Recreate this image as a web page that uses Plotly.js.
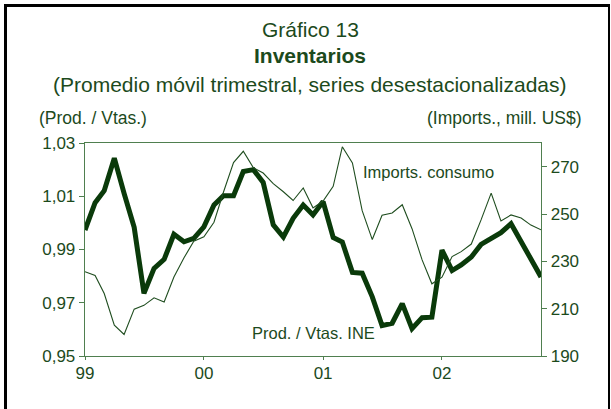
<!DOCTYPE html>
<html>
<head>
<meta charset="utf-8">
<script src="https://cdn.plot.ly/plotly-3.0.1.min.js"></script>
<style>
  html, body { margin: 0; padding: 0; background: #ffffff; }
  #wrap { position: relative; width: 611px; height: 409px; overflow: hidden; }
  #chart { width: 611px; height: 409px; }
  #frame { position: absolute; left: 4px; top: 4px; width: 601px; height: 420px;
           border-left: 3px solid #000; border-top: 3px solid #000; border-right: 2px solid #000;
           pointer-events: none; }
</style>
</head>
<body>
<div id="wrap">
  <div id="chart"></div>
  <div id="frame"></div>
</div>
<script>
// ---- Data (monthly, Jan 1999 - Nov 2002) ----
const months = [
  '1999-01','1999-02','1999-03','1999-04','1999-05','1999-06','1999-07','1999-08','1999-09','1999-10','1999-11','1999-12',
  '2000-01','2000-02','2000-03','2000-04','2000-05','2000-06','2000-07','2000-08','2000-09','2000-10','2000-11','2000-12',
  '2001-01','2001-02','2001-03','2001-04','2001-05','2001-06','2001-07','2001-08','2001-09','2001-10','2001-11','2001-12',
  '2002-01','2002-02','2002-03','2002-04','2002-05','2002-06','2002-07','2002-08','2002-09','2002-10','2002-11'
];
// Prod. / Vtas. INE (left axis)
const prodVtas = [
  0.9973,1.0076,1.0121,1.0243,1.0111,0.9983,0.9735,0.9829,0.9863,0.9957,0.9929,0.9942,
  0.9985,1.0067,1.0102,1.0102,1.0193,1.0200,1.0152,0.9993,0.9947,1.0017,1.0067,1.0030,
  1.0080,0.9945,0.9928,0.9814,0.9811,0.9722,0.9614,0.9623,0.9697,0.9603,0.9644,0.9646,
  0.9898,0.9821,0.9842,0.9872,0.9919,0.9943,0.9963,0.9997,0.9930,0.9872,0.9797
];
// Imports. consumo (right axis, mill. US$)
const importsConsumo = [
  225.6,224.0,216.4,203.0,199.1,209.8,211.4,214.6,212.8,223.4,231.5,238.5,
  240.4,246.5,259.2,271.7,276.5,269.5,267.3,262.8,259.4,255.7,261.0,252.6,
  255.5,261.7,278.4,271.6,251.4,239.2,249.5,250.4,253.9,243.8,230.6,220.5,
  223.3,232.0,234.1,237.3,247.5,258.8,247.1,249.6,248.3,245.3,243.3
];
const xTickVals = ['1999-01','2000-01','2001-01','2002-01'];
const xTickText = ['99','00','01','02'];
const leftTicks = [0.95,0.97,0.99,1.01,1.03];
const rightTicks = [190,210,230,250,270];

// ---- Styling ----
const FONT = 'Arial, "Liberation Sans", sans-serif';
const TXT = '#1c4a1c';
const AXC = '#4f7f4f';
const W = 611, H = 409;
const L = 85, R = 541, T = 143, B = 356;
const px = x => (x - L) / (R - L);
const py = y => (B - y) / (B - T);

const traces = [
  {
    x: months, y: importsConsumo, type: 'scatter', mode: 'lines', yaxis: 'y2',
    line: { color: '#1f4d1f', width: 1.1 }, name: 'Imports. consumo', hoverinfo: 'skip'
  },
  {
    x: months, y: prodVtas, type: 'scatter', mode: 'lines', yaxis: 'y',
    line: { color: '#0a3a0a', width: 5 }, name: 'Prod. / Vtas. INE', hoverinfo: 'skip'
  }
];

function ann(text, x, y, size, xanchor, bold) {
  return {
    text: bold ? '<b>' + text + '</b>' : text,
    xref: 'paper', yref: 'paper', x: px(x), y: py(y),
    xanchor: xanchor, yanchor: 'middle', showarrow: false,
    font: { family: FONT, size: size, color: TXT }
  };
}

const layout = {
  width: W, height: H,
  margin: { l: L, r: W - R, t: T, b: H - B, pad: 0 },
  paper_bgcolor: '#ffffff', plot_bgcolor: '#ffffff',
  separators: ',.',
  showlegend: false,
  font: { family: FONT, color: TXT, size: 17 },
  xaxis: {
    type: 'date', range: ['1999-01-01', '2002-11-01'],
    tickmode: 'array', tickvals: xTickVals, ticktext: xTickText,
    ticks: 'outside', ticklen: 3, tickcolor: AXC, tickwidth: 1,
    ticklabelstandoff: -2,
    showline: true, linecolor: AXC, linewidth: 1.3, mirror: true,
    showgrid: false, zeroline: false,
    tickfont: { family: FONT, size: 17, color: TXT }
  },
  yaxis: {
    range: [0.95, 1.03], tickmode: 'array', tickvals: leftTicks, tickformat: '.2f',
    ticks: 'outside', ticklen: 5, tickcolor: AXC, tickwidth: 1,
    showline: true, linecolor: AXC, linewidth: 1.3,
    showgrid: false, zeroline: false,
    tickfont: { family: FONT, size: 17, color: TXT }
  },
  yaxis2: {
    range: [190, 280], overlaying: 'y', side: 'right',
    tickmode: 'array', tickvals: rightTicks,
    ticks: 'outside', ticklen: 5, tickcolor: AXC, tickwidth: 1,
    showline: true, linecolor: AXC, linewidth: 1.3,
    showgrid: false, zeroline: false,
    tickfont: { family: FONT, size: 17, color: TXT }
  },
  annotations: [
    ann('Gráfico 13', 310, 30, 21, 'center', false),
    ann('Inventarios', 310, 55, 21, 'center', true),
    ann('(Promedio móvil trimestral, series desestacionalizadas)', 310, 84, 21, 'center', false),
    ann('(Prod. / Vtas.)', 37, 118, 17.5, 'left', false),
    ann('(Imports., mill. US$)', 584, 118, 17.5, 'right', false),
    ann('Imports. consumo', 361, 171.5, 16.5, 'left', false),
    ann('Prod. / Vtas. INE', 249.5, 333, 16.5, 'left', false)
  ]
};

Plotly.newPlot('chart', traces, layout, { staticPlot: true, displayModeBar: false });
</script>
</body>
</html>
